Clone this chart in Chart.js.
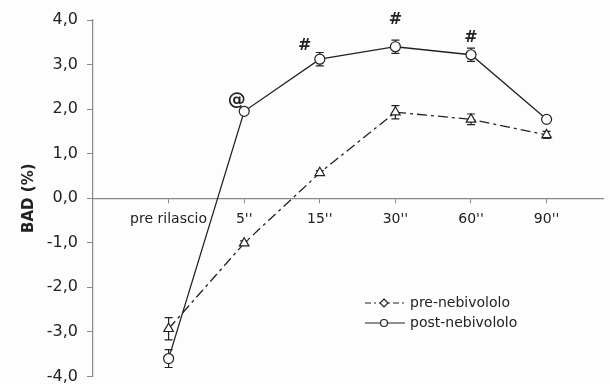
<!DOCTYPE html>
<html>
<head>
<meta charset="utf-8">
<script src="https://cdn.jsdelivr.net/npm/chart.js@4/dist/chart.umd.min.js"></script>
<style>
html, body { margin: 0; padding: 0; background: #fdfdfd; overflow: hidden; }
#wrap { position: relative; width: 610px; height: 395px; }
</style>
</head>
<body>
<div id="wrap"><canvas id="chart"></canvas></div>
<script>
var categories = ["pre rilascio", "5''", "15''", "30''", "60''", "90''"];
var preNebivololo = [-2.93, -1.01, 0.57, 1.93, 1.77, 1.42];
var preErr = [0.25, 0.05, 0.05, 0.15, 0.12, 0.08];
var postNebivololo = [-3.6, 1.95, 3.12, 3.4, 3.22, 1.77];
var postErr = [0.2, 0.05, 0.15, 0.15, 0.15, 0.05];
var yTicks = [-4, -3, -2, -1, 0, 1, 2, 3, 4];
// significance marks drawn next to post-nebivololo points
var marks = [{i: 1, sym: "@", dy: 0.25, dx: -0.1}, {i: 2, sym: "#", dy: 0.3, dx: -0.2}, {i: 3, sym: "#", dy: 0.6, dx: 0}, {i: 4, sym: "#", dy: 0.38, dx: 0}];

var ink = "#222";
var font = "'DejaVu Sans', 'Liberation Sans', Arial, sans-serif";

function pts(vals) {
	var out = [];
	for (var i = 0; i < vals.length; i++) out.push({x: i, y: vals[i]});
	return out;
}

var extras = {
	id: "extras",
	beforeDatasetsDraw: function(chart) {
		var ctx = chart.ctx, xs = chart.scales.x, ys = chart.scales.y;
		var sets = [[preNebivololo, preErr], [postNebivololo, postErr]];
		ctx.save();
		ctx.strokeStyle = ink;
		ctx.lineWidth = 1.2;
		for (var s = 0; s < sets.length; s++) {
			for (var i = 0; i < sets[s][0].length; i++) {
				var px = xs.getPixelForValue(i);
				var top = ys.getPixelForValue(sets[s][0][i] + sets[s][1][i]);
				var bot = ys.getPixelForValue(sets[s][0][i] - sets[s][1][i]);
				ctx.beginPath();
				ctx.moveTo(px, top); ctx.lineTo(px, bot);
				ctx.moveTo(px - 4, top); ctx.lineTo(px + 4, top);
				ctx.moveTo(px - 4, bot); ctx.lineTo(px + 4, bot);
				ctx.stroke();
			}
		}
		ctx.restore();
	},
	afterDraw: function(chart) {
		var ctx = chart.ctx, xs = chart.scales.x, ys = chart.scales.y;
		ctx.save();
		ctx.fillStyle = ink;
		ctx.textAlign = "center";
		ctx.textBaseline = "middle";
		for (var k = 0; k < marks.length; k++) {
			var m = marks[k];
			var v = postNebivololo[m.i];
			ctx.font = (m.sym == "@" ? "bold 18px " : "bold 16px ") + font;
			ctx.fillText(m.sym, xs.getPixelForValue(m.i + m.dx), ys.getPixelForValue(v + m.dy));
		}
		// legend
		var lx = 365, rows = [303, 323];
		ctx.font = "14px " + font;
		ctx.textAlign = "left";
		ctx.lineWidth = 1.2;
		ctx.strokeStyle = ink;
		for (var r = 0; r < 2; r++) {
			ctx.beginPath();
			ctx.setLineDash(r == 0 ? [6, 3, 2, 3] : []);
			ctx.moveTo(lx, rows[r]); ctx.lineTo(lx + 40, rows[r]);
			ctx.stroke();
			ctx.setLineDash([]);
			ctx.fillStyle = "#fdfdfd";
			ctx.beginPath();
			if (r == 0) {
				ctx.moveTo(lx + 19, rows[r] - 4); ctx.lineTo(lx + 23, rows[r]);
				ctx.lineTo(lx + 19, rows[r] + 4); ctx.lineTo(lx + 15, rows[r]);
				ctx.closePath();
			} else {
				ctx.arc(lx + 19, rows[r], 3.5, 0, Math.PI * 2);
			}
			ctx.fill(); ctx.stroke();
			ctx.fillStyle = ink;
			ctx.fillText(r == 0 ? "pre-nebivololo" : "post-nebivololo", lx + 45, rows[r]);
		}
		ctx.restore();
	}
};

var ctx = document.getElementById("chart").getContext("2d");
var chart = new Chart(ctx, {
	type: "line",
	data: {
		datasets: [{
			label: "pre-nebivololo",
			data: pts(preNebivololo),
			borderColor: ink,
			borderWidth: 1.3,
			borderDash: [10, 4, 3, 4],
			pointStyle: "triangle",
			pointRadius: 5.5,
			pointBackgroundColor: "#fdfdfd",
			pointBorderColor: ink,
			pointBorderWidth: 1.2,
			tension: 0
		}, {
			label: "post-nebivololo",
			data: pts(postNebivololo),
			borderColor: ink,
			borderWidth: 1.3,
			pointStyle: "circle",
			pointRadius: 5,
			pointBackgroundColor: "#fdfdfd",
			pointBorderColor: ink,
			pointBorderWidth: 1.2,
			tension: 0
		}]
	},
	options: {
		responsive: true,
		maintainAspectRatio: false,
		animation: false,
		layout: {padding: {left: 20, right: 0, top: 20, bottom: 0}},
		plugins: {legend: {display: false}, tooltip: {enabled: false}},
		scales: {
			x: {
				type: "linear",
				position: {y: 0},
				min: -1,
				max: 5.75,
				afterBuildTicks: function(scale) {
					scale.ticks = categories.map(function(c, i) { return {value: i}; });
				},
				afterFit: function(scale) { scale.height = 0; },
				ticks: {
					color: ink,
					font: {family: font, size: 14},
					padding: 9,
					maxRotation: 0,
					autoSkip: false,
					callback: function(v) { return categories[v]; }
				},
				grid: {drawOnChartArea: false, drawTicks: true, tickLength: 4, color: "#888"},
				border: {color: "#888", width: 1.2}
			},
			y: {
				min: -4,
				max: 4,
				afterBuildTicks: function(scale) {
					scale.ticks = yTicks.map(function(v) { return {value: v}; });
				},
				afterFit: function(scale) { scale.width = 73; },
				ticks: {
					color: ink,
					font: {family: font, size: 16},
					padding: 9,
					callback: function(v) { return v.toFixed(1).replace(".", ","); }
				},
				grid: {drawOnChartArea: false, drawTicks: true, tickLength: 6, color: "#888"},
				border: {color: "#888", width: 1.2},
				title: {display: true, text: "BAD (%)", color: ink, font: {family: font, size: 15, weight: "bold"}, padding: {top: 0, bottom: 0}}
			}
		}
	},
	plugins: [extras]
});
</script>
</body>
</html>
